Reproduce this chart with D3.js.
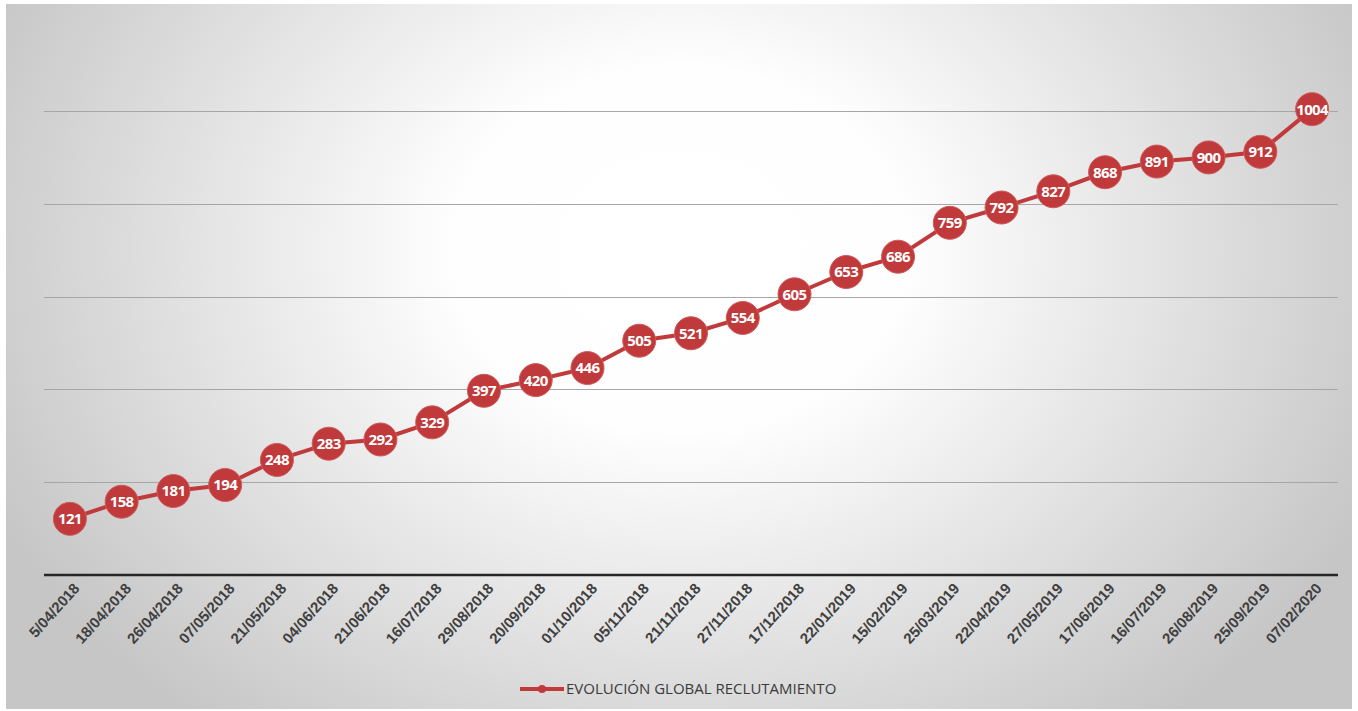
<!DOCTYPE html>
<html>
<head>
<meta charset="utf-8">
<script src="https://cdn.jsdelivr.net/npm/d3@7"></script>
<style>
  body { margin: 0; background: #fff; }
  svg { display: block; font-family: "Open Sans", "DejaVu Sans", sans-serif; }
</style>
</head>
<body>
<div class="chart"></div>
<script>
const fechas = ["5/04/2018", "18/04/2018", "26/04/2018", "07/05/2018", "21/05/2018", "04/06/2018",
  "21/06/2018", "16/07/2018", "29/08/2018", "20/09/2018", "01/10/2018", "05/11/2018", "21/11/2018",
  "27/11/2018", "17/12/2018", "22/01/2019", "15/02/2019", "25/03/2019", "22/04/2019", "27/05/2019",
  "17/06/2019", "16/07/2019", "26/08/2019", "25/09/2019", "07/02/2020"];
const reclutados = [121, 158, 181, 194, 248, 283, 292, 329, 397, 420, 446, 505, 521, 554, 605,
  653, 686, 759, 792, 827, 868, 891, 900, 912, 1004];
const yTicks = [200, 400, 600, 800, 1000];
const serieNombre = "EVOLUCIÓN GLOBAL RECLUTAMIENTO";

const width = 1358, height = 711;
const rojo = "#c0393b";

const svg = d3.select(".chart").append("svg")
  .attr("width", width)
  .attr("height", height);

// fondo con degradado radial
const defs = svg.append("defs");
const grad = defs.append("radialGradient")
  .attr("id", "bg")
  .attr("gradientUnits", "userSpaceOnUse")
  .attr("cx", 680).attr("cy", 250).attr("r", 760)
  .attr("gradientTransform", "translate(680,250) scale(1,0.8) translate(-680,-250)");
grad.append("stop").attr("offset", "0%").attr("stop-color", "#ffffff");
grad.append("stop").attr("offset", "30%").attr("stop-color", "#fefefe");
grad.append("stop").attr("offset", "60%").attr("stop-color", "#e6e6e6");
grad.append("stop").attr("offset", "100%").attr("stop-color", "#c6c6c6");

svg.append("rect")
  .attr("x", 6).attr("y", 4)
  .attr("width", 1346).attr("height", 705)
  .attr("fill", "url(#bg)");

const x = d3.scalePoint()
  .domain(fechas)
  .range([44, 1338])
  .padding(0.5);

const y = d3.scaleLinear()
  .domain([0, 1000])
  .range([575, 111]);

// líneas de cuadrícula
svg.append("g")
  .selectAll("line")
  .data(yTicks)
  .join("line")
  .attr("x1", 44).attr("x2", 1338)
  .attr("y1", d => Math.round(y(d)) + 0.5)
  .attr("y2", d => Math.round(y(d)) + 0.5)
  .attr("stroke", "#a6a6a6")
  .attr("stroke-width", 1);

// eje x
const xAxis = svg.append("g")
  .attr("transform", `translate(0,${y(0)})`)
  .call(d3.axisBottom(x).tickSize(0).tickPadding(0));
xAxis.select(".domain")
  .attr("d", "M44,0H1338")
  .attr("stroke", "#262626")
  .attr("stroke-width", 2.5);
xAxis.selectAll("text")
  .attr("fill", "#404040")
  .attr("font-size", 15)
  .attr("font-weight", 600)
  .attr("text-anchor", "end")
  .attr("dy", null)
  .attr("y", 0)
  .attr("transform", "translate(10,14) rotate(-48)");

// línea
const line = d3.line()
  .x((d, i) => x(fechas[i]))
  .y(d => y(d));

svg.append("path")
  .datum(reclutados)
  .attr("d", line)
  .attr("fill", "none")
  .attr("stroke", rojo)
  .attr("stroke-width", 4)
  .attr("stroke-linejoin", "round");

// marcadores y etiquetas
const pts = svg.append("g")
  .selectAll("g")
  .data(reclutados)
  .join("g")
  .attr("transform", (d, i) => `translate(${x(fechas[i])},${y(d)})`);

pts.append("circle")
  .attr("r", 16.5)
  .attr("fill", rojo)
  .attr("stroke", "#d05a5c")
  .attr("stroke-width", 1);

pts.append("text")
  .attr("text-anchor", "middle")
  .attr("dy", "0.36em")
  .attr("fill", "#fff")
  .attr("font-size", 15)
  .attr("font-weight", "bold")
  .attr("letter-spacing", -0.6)
  .text(d => d);

// leyenda
const leg = svg.append("g").attr("transform", "translate(520,689)");
leg.append("line")
  .attr("x1", 0).attr("x2", 44)
  .attr("stroke", rojo)
  .attr("stroke-width", 4);
leg.append("circle")
  .attr("cx", 22).attr("r", 4)
  .attr("fill", rojo);
leg.append("text")
  .attr("x", 46)
  .attr("dy", "0.35em")
  .attr("fill", "#3a3a3a")
  .attr("font-size", 15)
  .text(serieNombre);
</script>
</body>
</html>
